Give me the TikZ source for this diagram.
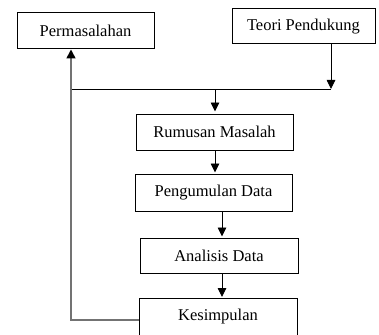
\documentclass[tikz,border=0pt]{standalone}
\usepackage{fontspec}
\setmainfont{Liberation Serif}
\usetikzlibrary{arrows.meta}
\begin{document}
\begin{tikzpicture}[x=1pt,y=-1pt,
  box/.style={draw=black,line width=1pt,inner sep=0pt,minimum height=36pt,font=\fontsize{16.5}{18}\selectfont},
  conn/.style={draw=black,line width=0.9pt},
  arr/.style={conn,-{Triangle[width=8.5pt,length=9pt]}},
  grayline/.style={draw=black!55,line width=1.6pt}]
\useasboundingbox (0,0) rectangle (379,334);
\node[box,minimum width=137pt] (per) at (85.5,31) {Permasalahan};
\node[box,minimum width=143pt,minimum height=35pt] (teo) at (303.5,26.5) {Teori Pendukung};
\node[box,minimum width=157pt] (rum) at (214.5,132) {Rumusan Masalah};
\node[box,minimum width=157pt,minimum height=37pt] (pen) at (213.5,192.5) {Pengumulan Data};
\node[box,minimum width=158pt,minimum height=35pt] (ana) at (219,255.5) {Analisis Data};
\node[box,minimum width=158pt,minimum height=37pt] (kes) at (218,317) {Kesimpulan};
\coordinate (jr) at (331,89);
\coordinate (jl) at (71,89);
\coordinate (jm) at (215,89);
\coordinate (bl) at (71,320);
\draw[arr] (teo.south -| jr) -- (jr);
\draw[conn] (jl) -- (jr);
\draw[arr,shorten >=2pt] (jm) -- (rum.north -| jm);
\draw[arr,shorten >=1pt] (rum.south -| jm) -- (pen.north -| jm);
\draw[arr,shorten >=1pt] (pen.south -| 222,0) -- (ana.north -| 222,0);
\draw[arr,shorten >=1pt] (ana.south -| 222,0) -- (kes.north -| 222,0);
\draw[grayline] (kes.west |- bl) -- (bl) -- (jl);
\draw[grayline,-{Triangle[width=9pt,length=9pt,color=black]}] (jl) -- (per.south -| jl);
\end{tikzpicture}
\end{document}
